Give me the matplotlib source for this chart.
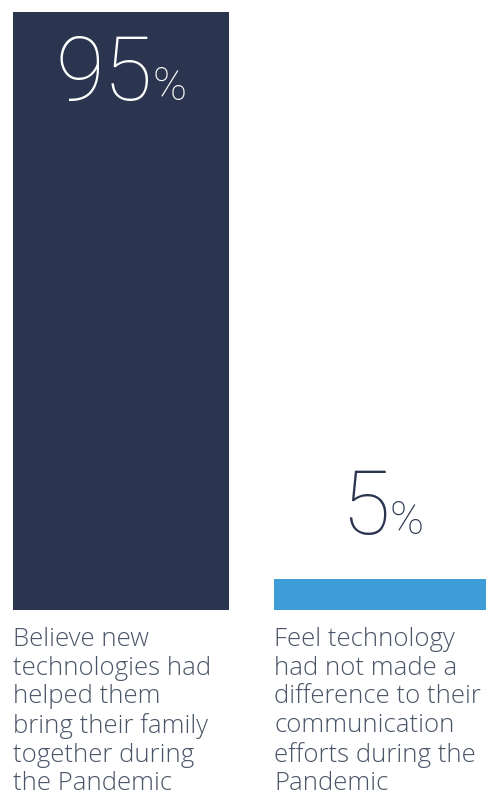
import matplotlib.pyplot as plt
from matplotlib import transforms

# survey results
values = [95, 5]
colors = ["#2b3550", "#3e9dd6"]
labels = [
    "Believe new\ntechnologies had\nhelped them\nbring their family\ntogether during\nthe Pandemic",
    "Feel technology\nhad not made a\ndifference to their\ncommunication\nefforts during the\nPandemic",
]
value_colors = ["white", "#2b3550"]

W, H = 486, 810
fig = plt.figure(figsize=(W / 100, H / 100), dpi=100)

# axes spans from the bar baseline (y=610 px from top) up to the top edge
base_px = 610
ax = fig.add_axes([0, (H - base_px) / H, 1, base_px / H])
spacing = 261.0
first_center = 121.0
bar_w = 216 / spacing
ymax = 95 * base_px / 598
px = ymax / base_px  # data units per pixel
ax.set_xlim(-first_center / spacing, (W - first_center) / spacing)
ax.set_ylim(0, ymax)
ax.axis("off")

x = list(range(len(values)))
ax.bar(x, values, width=bar_w, color=colors)

num_font = dict(family="Roboto", weight=100)
fig.canvas.draw()
renderer = fig.canvas.get_renderer()

# value labels: big number with a smaller percent sign, centered on the bar
for i, v in enumerate(values):
    y = v - 88 * px if v > 50 else v + 45 * px
    num = ax.text(i, y, str(v), fontsize=64, color=value_colors[i],
                  ha="left", va="baseline", **num_font)
    pct = ax.text(i, y, "%", fontsize=33, color=value_colors[i],
                  ha="left", va="baseline", **num_font)
    w_num = num.get_window_extent(renderer).width
    w_pct = pct.get_window_extent(renderer).width
    total = w_num + w_pct
    num.set_transform(transforms.offset_copy(
        ax.transData, fig=fig, x=-total / 2 * 0.72, units="points"))
    pct.set_transform(transforms.offset_copy(
        ax.transData, fig=fig, x=(w_num - total / 2) * 0.72, units="points"))

# category descriptions under the bars
for i, lab in enumerate(labels):
    ax.text(i - bar_w / 2, -17 * px, lab,
            fontsize=18.5, color="#4a5568", ha="left", va="top",
            family="Open Sans", weight=300, linespacing=1.19, clip_on=False)

fig.savefig("out.png", dpi=100)
